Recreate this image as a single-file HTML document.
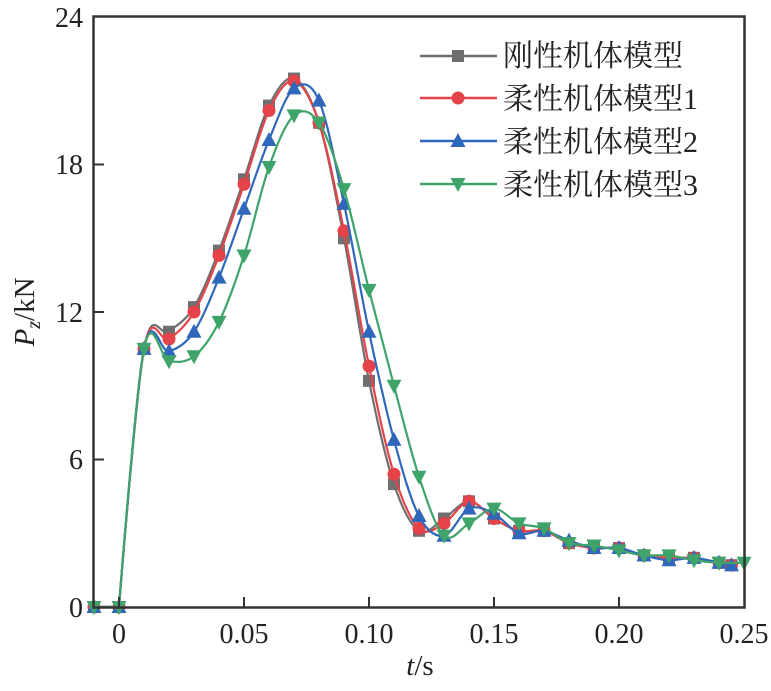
<!DOCTYPE html>
<html><head><meta charset="utf-8"><style>
body{margin:0;background:#fff}
svg text{font-family:"Liberation Serif","Noto Serif CJK SC",serif;fill:#222}
</style></head><body>
<svg id="s" width="771" height="686" viewBox="0 0 771 686" xmlns="http://www.w3.org/2000/svg">
<rect x="0" y="0" width="771" height="686" fill="#fff"/>
<g id="plot"></g>
<rect x="93.5" y="16.5" width="651" height="591" fill="none" stroke="#333" stroke-width="2.5"/>
<g stroke="#333" stroke-width="2">
<line x1="244" y1="607" x2="244" y2="597"/><line x1="369" y1="607" x2="369" y2="597"/>
<line x1="494" y1="607" x2="494" y2="597"/><line x1="619" y1="607" x2="619" y2="597"/>
<line x1="119" y1="607" x2="119" y2="597"/>
<line x1="94" y1="459.5" x2="104" y2="459.5"/><line x1="94" y1="312" x2="104" y2="312"/>
<line x1="94" y1="164.5" x2="104" y2="164.5"/>
</g>
<g font-size="28" text-anchor="end">
<text x="83" y="617">0</text><text x="83" y="469">6</text><text x="83" y="322">12</text>
<text x="83" y="174">18</text><text x="83" y="27">24</text>
</g>
<g font-size="28" text-anchor="middle">
<text x="119" y="643">0</text><text x="244" y="643">0.05</text><text x="369" y="643">0.10</text>
<text x="494" y="643">0.15</text><text x="619" y="643">0.20</text><text x="744" y="643">0.25</text>
</g>
<text x="420" y="675" font-size="29" text-anchor="middle"><tspan font-style="italic">t</tspan>/s</text>
<text transform="translate(34,312) rotate(-90)" font-size="29" text-anchor="middle"><tspan font-style="italic">P</tspan><tspan font-style="italic" font-size="20" dy="6">z</tspan><tspan dy="-6">/kN</tspan></text>
<g font-size="30">
<text x="503" y="66">刚性机体模型</text>
<text x="503" y="109">柔性机体模型1</text>
<text x="503" y="152">柔性机体模型2</text>
<text x="503" y="195">柔性机体模型3</text>
</g>
<g id="leg"></g>
</svg>
<script>
const X=t=>119+t*2500, Y=v=>607-v*24.58;
const ts=[-0.01,0,0.01,0.02,0.03,0.04,0.05,0.06,0.07,0.08,0.09,0.10,0.11,0.12,0.13,0.14,0.15,0.16,0.17,0.18,0.19,0.20,0.21,0.22,0.23,0.24,0.245];
const S=[
{c:"#6f6f6f",m:"sq",d:[0,0,10.5,11.2,12.2,14.5,17.4,20.4,21.5,19.7,15.0,9.2,5.0,3.1,3.6,4.3,3.6,3.1,3.1,2.6,2.4,2.4,2.1,2.0,2.0,1.8,1.7]},
{c:"#e5434a",m:"ci",d:[0,0,10.5,10.9,12.0,14.3,17.2,20.2,21.4,19.7,15.3,9.8,5.4,3.2,3.4,4.3,3.6,3.1,3.1,2.6,2.4,2.4,2.1,2.0,2.0,1.8,1.7]},
{c:"#2f68bb",m:"up",d:[0,0,10.5,10.4,11.2,13.4,16.2,19.0,21.1,20.6,16.4,11.2,6.8,3.7,2.9,4.0,3.8,3.0,3.1,2.7,2.4,2.4,2.1,1.9,2.0,1.8,1.7]},
{c:"#3ea46a",m:"dn",d:[0,0,10.5,10.0,10.2,11.6,14.3,17.9,20.0,19.7,17.0,12.9,9.0,5.3,2.9,3.4,4.0,3.4,3.2,2.6,2.5,2.3,2.1,2.1,1.9,1.8,1.8]}];
function mk(m,x,y,c){
 if(m=="sq")return `<rect x="${x-6}" y="${y-6}" width="12" height="12" fill="${c}"/>`;
 if(m=="ci")return `<circle cx="${x}" cy="${y}" r="6.5" fill="${c}"/>`;
 if(m=="up")return `<polygon points="${x},${y-8} ${x-7.5},${y+6} ${x+7.5},${y+6}" fill="${c}"/>`;
 return `<polygon points="${x},${y+8} ${x-7.5},${y-6} ${x+7.5},${y-6}" fill="${c}"/>`;
}
let h="";
S.forEach((s,k)=>{
 const p=ts.map((t,i)=>[X(t),Y(s.d[i])]);
 if(k==3)p[p.length-1][0]=X(0.25);
 let d=`M${p[0][0]},${p[0][1]}`;
 for(let i=0;i<p.length-1;i++){
  const p0=p[Math.max(0,i-1)],p1=p[i],p2=p[i+1],p3=p[Math.min(p.length-1,i+2)];
  const a=(i<2)?0:1/6,b=(i<1)?0:1/6;
  d+=` C${p1[0]+(p2[0]-p0[0])*a},${p1[1]+(p2[1]-p0[1])*a} ${p2[0]-(p3[0]-p1[0])*b},${p2[1]-(p3[1]-p1[1])*b} ${p2[0]},${p2[1]}`;
 }
 h+=`<path d="${d}" fill="none" stroke="${s.c}" stroke-width="2.2"/>`;
 p.forEach(q=>h+=mk(s.m,q[0],q[1],s.c));
});
document.getElementById("plot").innerHTML=h;
let l="";const ly=[56,98,141,184];
S.forEach((s,k)=>{l+=`<line x1="420" y1="${ly[k]}" x2="497" y2="${ly[k]}" stroke="${s.c}" stroke-width="2.5"/>`+mk(s.m,458,ly[k],s.c);});
document.getElementById("leg").innerHTML=l;
</script>
</body></html>
